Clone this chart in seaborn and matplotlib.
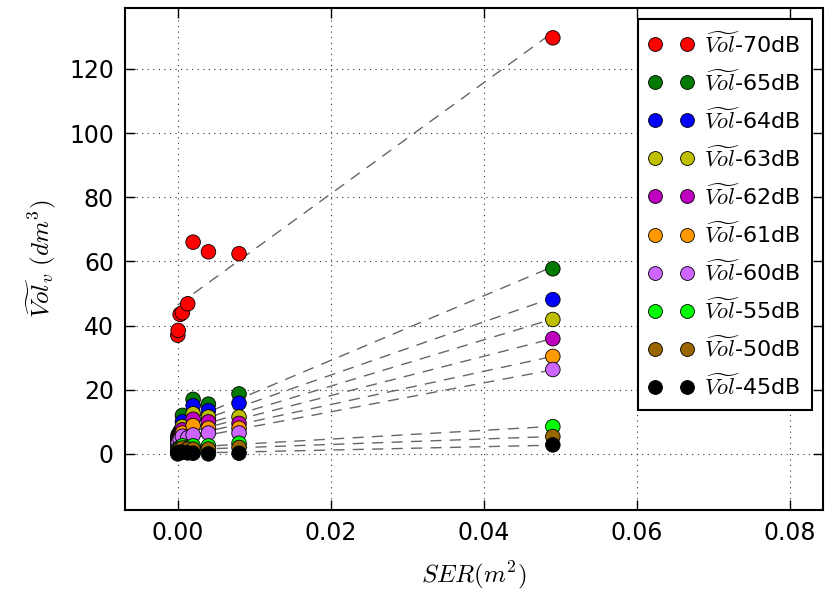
import numpy as np
import pandas as pd
import matplotlib
matplotlib.use("Agg")
import matplotlib.pyplot as plt
import seaborn as sns

# ---- data ----
ser = [0.0, 0.00005, 0.0003, 0.0006, 0.0013, 0.002, 0.004, 0.008, 0.049]
levels = ["70dB", "65dB", "64dB", "63dB", "62dB", "61dB", "60dB", "55dB", "50dB", "45dB"]
vol_70 = [37.0, 38.5, 43.5, 44.0, 46.8, 66.0, 63.0, 62.4, 129.7]
vol_65 = [5.0, 6.0, 7.0, 12.0, 8.0, 17.0, 15.5, 18.7, 57.7]
vol_64 = [4.5, 5.5, 6.5, 10.0, 7.0, 15.0, 13.5, 15.8, 48.1]
vol_63 = [4.0, 5.0, 6.0, 8.5, 6.5, 12.5, 11.5, 11.5, 41.9]
vol_62 = [3.5, 4.5, 5.5, 7.5, 6.0, 10.8, 10.0, 9.5, 35.9]
vol_61 = [3.0, 4.0, 5.0, 6.5, 5.5, 8.8, 8.0, 8.0, 30.4]
vol_60 = [2.5, 3.5, 4.5, 5.5, 5.0, 5.9, 6.5, 6.5, 26.3]
vol_55 = [1.0, 1.5, 2.0, 2.5, 2.0, 2.5, 2.5, 3.3, 8.5]
vol_50 = [0.5, 1.0, 1.5, 1.8, 1.5, 1.5, 1.5, 2.0, 5.4]
vol_45 = [0.0, 0.3, 0.5, 0.5, 0.3, 0.2, 0.0, 0.2, 2.8]
series = [vol_70, vol_65, vol_64, vol_63, vol_62, vol_61, vol_60, vol_55, vol_50, vol_45]
colors = ["#ff0000", "#007a00", "#0000ff", "#bfbf00", "#bf00bf", "#ff9900",
          "#cc66ff", "#00ff00", "#996600", "#000000"]

labels = [r"$\widetilde{Vol}$-" + lv for lv in levels]
df = pd.DataFrame({
    "SER": np.tile(ser, len(levels)),
    "Vol": np.concatenate(series),
    "level": np.repeat(labels, len(ser)),
})

plt.rcParams["mathtext.fontset"] = "cm"
plt.rcParams["font.family"] = "DejaVu Sans"

fig = plt.figure(figsize=(8.25, 5.97), dpi=100)
ax = fig.add_axes([0.1515, 0.1457, 0.8461, 0.8409])

# regression lines (under markers)
for lab in labels:
    sub = df[df["level"] == lab]
    sns.regplot(data=sub, x="SER", y="Vol", scatter=False, ci=None, ax=ax,
                line_kws=dict(color="0.4", linestyle=(0, (8, 6)), linewidth=1.0, zorder=2))

sns.scatterplot(data=df, x="SER", y="Vol", hue="level", hue_order=labels,
                palette=dict(zip(labels, colors)), s=110, edgecolor="black",
                linewidth=0.6, ax=ax, zorder=3, legend=True)

ax.set_xlim(-0.0069, 0.0843)
ax.set_ylim(-17.5, 139.0)
ax.set_xticks([0.00, 0.02, 0.04, 0.06, 0.08])
ax.set_yticks([0, 20, 40, 60, 80, 100, 120])
ax.set_xticklabels(["0.00", "0.02", "0.04", "0.06", "0.08"])
ax.grid(True, color="0.2", linestyle=(0, (1, 4)), linewidth=0.8)
ax.set_axisbelow(True)
ax.tick_params(direction="in", top=True, right=True, length=7, width=1,
               labelsize=17, pad=8)
for sp in ax.spines.values():
    sp.set_linewidth(1.5)
    sp.set_color("black")

ax.set_xlabel(r"$SER(m^2)$", fontsize=18, labelpad=10)
ax.set_ylabel(r"$\widetilde{Vol}_v\ (dm^3)$", fontsize=18, labelpad=8)

leg = ax.legend(loc="upper right", numpoints=2, scatterpoints=2, fontsize=16,
                frameon=True, fancybox=False, labelspacing=0.55,
                borderaxespad=0.5, handletextpad=0.5, handlelength=2.0,
                borderpad=0.5)
for h in leg.legend_handles:
    try:
        h.set_markersize(10)
        h.set_markeredgewidth(0.6)
        h.set_markeredgecolor("black")
    except AttributeError:
        h.set_sizes([110])
leg.get_frame().set_edgecolor("black")
leg.get_frame().set_linewidth(1.5)
leg.get_frame().set_alpha(1)

fig.savefig("out.png", dpi=100)
